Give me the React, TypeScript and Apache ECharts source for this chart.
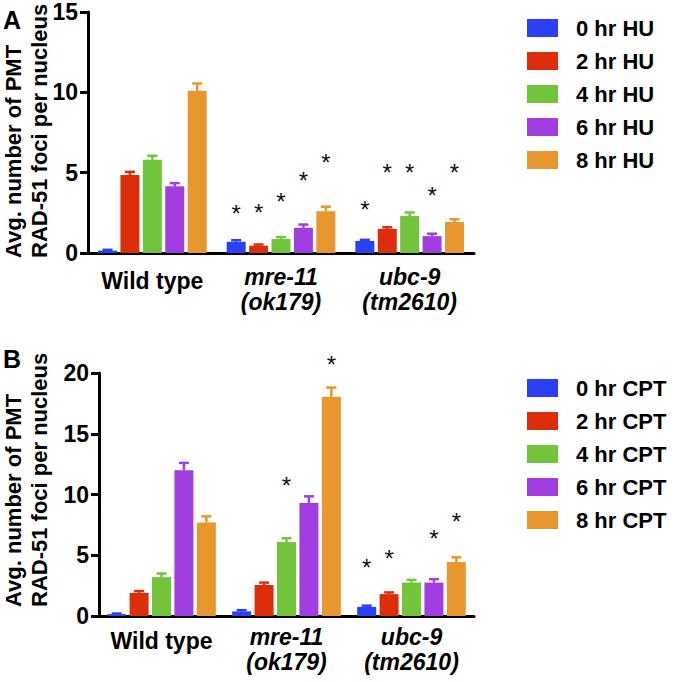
import React, { useEffect, useRef } from "react";
import * as echarts from "echarts";

const categories = ["Wild type", "mre-11 (ok179)", "ubc-9 (tm2610)"];
const namesA = ["0 hr HU", "2 hr HU", "4 hr HU", "6 hr HU", "8 hr HU"];
const namesB = ["0 hr CPT", "2 hr CPT", "4 hr CPT", "6 hr CPT", "8 hr CPT"];
const colors = ["#2a40f5", "#dd2e0c", "#72c43a", "#a23de2", "#e8962e"];

// Panel A (HU): mean per series [WT, mre-11, ubc-9]
const valuesA = [
  [0.15, 0.7, 0.75],
  [4.85, 0.45, 1.5],
  [5.8, 0.87, 2.3],
  [4.15, 1.57, 1.05],
  [10.1, 2.6, 1.93],
];
const errorsA = [
  [0.05, 0.1, 0.07],
  [0.2, 0.08, 0.1],
  [0.25, 0.12, 0.22],
  [0.2, 0.2, 0.15],
  [0.45, 0.28, 0.17],
];
// asterisk heights (value units), null = no asterisk
const starsA = [
  [null, 2.72, 2.95],
  [null, 2.78, 5.27],
  [null, 3.47, 5.27],
  [null, 4.75, 3.8],
  [null, 5.9, 5.27],
];

// Panel B (CPT)
const valuesB = [
  [0.15, 0.38, 0.75],
  [1.9, 2.55, 1.8],
  [3.2, 6.1, 2.75],
  [12.0, 9.3, 2.75],
  [7.7, 18.05, 4.45],
];
const errorsB = [
  [0.05, 0.1, 0.1],
  [0.15, 0.2, 0.14],
  [0.3, 0.3, 0.22],
  [0.6, 0.55, 0.28],
  [0.5, 0.75, 0.38],
];
const starsB = [
  [null, null, 4.3],
  [null, null, 5.05],
  [null, 11.03, null],
  [null, null, 6.7],
  [null, 21.0, 8.07],
];

const yTicksA = { min: 0, max: 15, interval: 5 };
const yTicksB = { min: 0, max: 20, interval: 5 };

const FONT = "'Liberation Sans', Arial, Helvetica, sans-serif";
const BAR_W = 19;
const BAR_GAP = 0.18;
const PITCH = BAR_W * (1 + BAR_GAP);

function buildPanel(
  idx: number,
  names: string[],
  values: number[][],
  errors: number[][],
  stars: (number | null)[][]
) {
  const series: any[] = [];
  names.forEach((n, s) => {
    series.push({
      type: "bar",
      name: n,
      xAxisIndex: idx,
      yAxisIndex: idx,
      data: values[s],
      barWidth: BAR_W,
      barGap: BAR_GAP * 100 + "%",
      itemStyle: { color: colors[s] },
      z: 2,
    });
  });
  const errData: number[][] = [];
  values.forEach((row, s) =>
    row.forEach((v, c) => errData.push([c, v, errors[s][c], s]))
  );
  series.push({
    type: "custom",
    name: "err" + idx,
    xAxisIndex: idx,
    yAxisIndex: idx,
    data: errData,
    z: 3,
    clip: false,
    renderItem: (params: any, api: any) => {
      const c = api.value(0);
      const v = api.value(1);
      const e = api.value(2);
      const s = api.value(3);
      const base = api.coord([c, v]);
      const top = api.coord([c, v + e]);
      const x = base[0] + (s - 2) * PITCH;
      const col = colors[s];
      return {
        type: "group",
        children: [
          {
            type: "line",
            shape: { x1: x, y1: base[1], x2: x, y2: top[1] },
            style: { stroke: col, lineWidth: 2.5 },
          },
          {
            type: "line",
            shape: { x1: x - 5, y1: top[1], x2: x + 5, y2: top[1] },
            style: { stroke: col, lineWidth: 2.5 },
          },
        ],
      };
    },
  });
  const starData: number[][] = [];
  stars.forEach((row, s) =>
    row.forEach((h, c) => {
      if (h !== null) starData.push([c, h, s]);
    })
  );
  series.push({
    type: "custom",
    name: "star" + idx,
    xAxisIndex: idx,
    yAxisIndex: idx,
    data: starData,
    z: 4,
    clip: false,
    renderItem: (params: any, api: any) => {
      const c = api.value(0);
      const h = api.value(1);
      const s = api.value(2);
      const p = api.coord([c, h]);
      return {
        type: "text",
        x: p[0] + (s - 2) * PITCH,
        y: p[1] + 4,
        style: {
          text: "*",
          fontSize: 24,
          fontFamily: FONT,
          fill: "#111",
          align: "center",
          verticalAlign: "middle",
        },
      };
    },
  });
  return series;
}

function xAxisDef(idx: number, margin: number) {
  return {
    type: "category",
    gridIndex: idx,
    data: categories,
    axisLine: { lineStyle: { color: "#000", width: 3 } },
    axisTick: {
      alignWithLabel: true,
      length: 8,
      lineStyle: { color: "#000", width: 3 },
    },
    axisLabel: {
      interval: 0,
      margin,
      formatter: (v: string) =>
        v === "Wild type"
          ? "{w|Wild type}"
          : v
              .split(" ")
              .map((s) => "{i|" + s + "}")
              .join("\n"),
      rich: {
        w: {
          fontSize: 23,
          fontWeight: "bold",
          fontFamily: FONT,
          color: "#000",
          lineHeight: 25,
          padding: [8, 0, 0, 0],
        },
        i: {
          fontSize: 23,
          fontWeight: "bold",
          fontStyle: "italic",
          fontFamily: FONT,
          color: "#000",
          lineHeight: 25,
        },
      },
    },
  };
}

function yAxisDef(idx: number, t: { min: number; max: number; interval: number }) {
  return {
    type: "value",
    gridIndex: idx,
    min: t.min,
    max: t.max,
    interval: t.interval,
    splitLine: { show: false },
    axisLine: { show: true, lineStyle: { color: "#000", width: 3 } },
    axisTick: { show: true, length: 8, lineStyle: { color: "#000", width: 3 } },
    axisLabel: {
      margin: 10,
      fontSize: 23,
      fontWeight: "bold",
      fontFamily: FONT,
      color: "#000",
    },
  };
}

function legendDef(names: string[], top: number) {
  return {
    data: names,
    orient: "vertical",
    left: 522,
    top,
    itemWidth: 31,
    itemHeight: 18,
    itemGap: 11,
    icon: "rect",
    selectedMode: false,
    textStyle: {
      fontSize: 22,
      fontWeight: "bold",
      fontFamily: FONT,
      color: "#000",
      padding: [0, 0, 0, 13],
    },
  };
}

function titleText(x: number, y: number) {
  return {
    type: "text",
    x,
    y,
    rotation: Math.PI / 2,
    style: {
      text: "Avg. number of PMT\nRAD-51 foci per nucleus",
      fontSize: 22,
      fontWeight: "bold",
      fontFamily: FONT,
      fill: "#000",
      lineHeight: 26,
      align: "left",
      verticalAlign: "top",
    },
  };
}

export default function App() {
  const ref = useRef<HTMLDivElement>(null);
  useEffect(() => {
    if (!ref.current) return;
    const chart = echarts.init(ref.current, null, { renderer: "svg" });
    chart.setOption({
      animation: false,
      backgroundColor: "#fff",
      grid: [
        { left: 88, top: 12, width: 386, height: 241 },
        { left: 99, top: 373, width: 375, height: 243 },
      ],
      xAxis: [xAxisDef(0, 11), xAxisDef(1, 8)],
      yAxis: [yAxisDef(0, yTicksA), yAxisDef(1, yTicksB)],
      legend: [legendDef(namesA, 12), legendDef(namesB, 372)],
      series: [
        ...buildPanel(0, namesA, valuesA, errorsA, starsA),
        ...buildPanel(1, namesB, valuesB, errorsB, starsB),
      ],
      graphic: [
        titleText(0, 258),
        titleText(0, 607),
        {
          type: "text",
          left: 3,
          top: 7,
          style: { text: "A", fontSize: 25, fontWeight: "bold", fontFamily: FONT, fill: "#000" },
        },
        {
          type: "text",
          left: 3,
          top: 346,
          style: { text: "B", fontSize: 25, fontWeight: "bold", fontFamily: FONT, fill: "#000" },
        },
      ],
    });
    return () => chart.dispose();
  }, []);
  return (
    <div
      ref={ref}
      style={{ position: "fixed", left: 0, top: 0, width: 677, height: 682 }}
    />
  );
}
